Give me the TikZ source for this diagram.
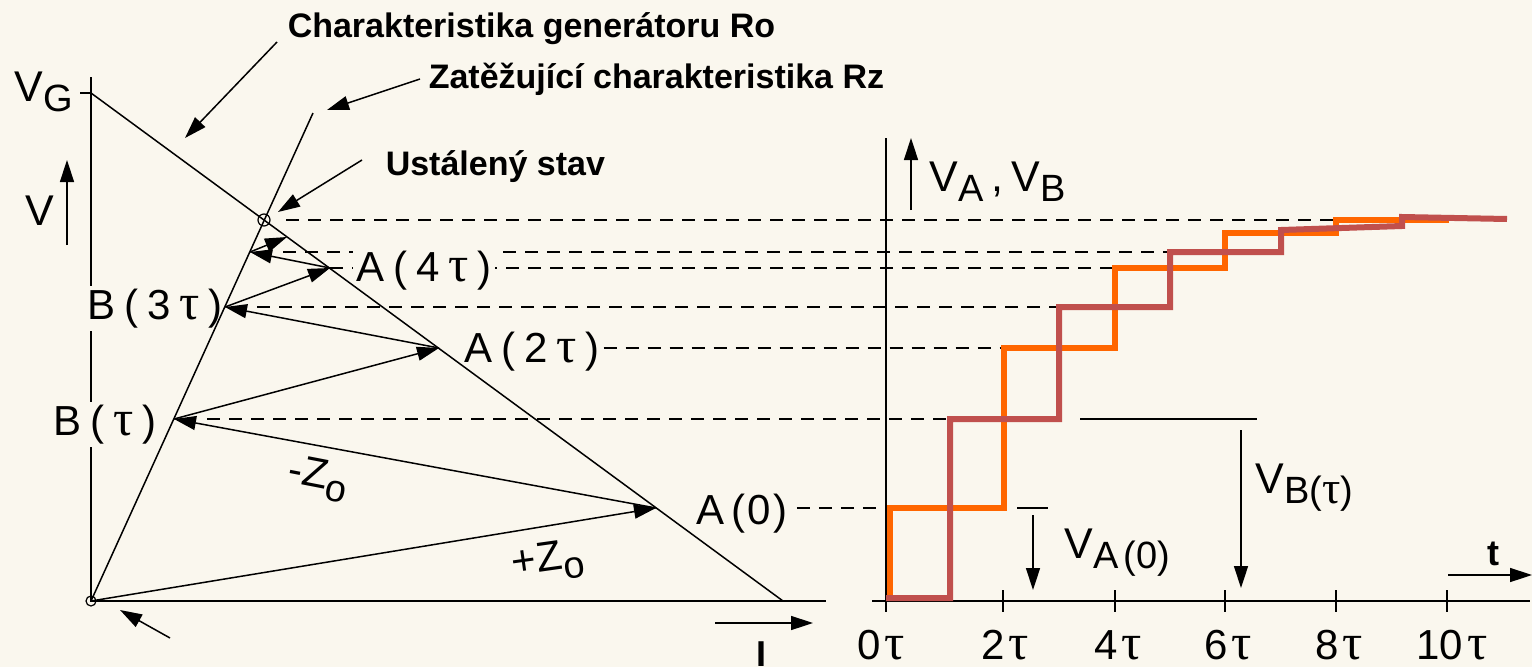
\documentclass[tikz,border=0pt]{standalone}
\usepackage{fontspec}
\setmainfont{Liberation Sans}
\newfontfamily\taufont{Liberation Serif}[Scale=1.2]
\usetikzlibrary{arrows.meta, positioning}
\definecolor{papier}{RGB}{250,247,238}
\definecolor{orangeA}{RGB}{255,102,0}
\definecolor{rotB}{RGB}{192,80,77}
\newcommand{\tauz}{{\taufont τ}}
\newcommand{\tief}[1]{\raisebox{-10pt}{\fontsize{38}{40}\selectfont #1}}
\newcommand{\lz}{\hspace{9pt}}

\begin{document}
\begin{tikzpicture}[x=1pt, y=-1pt, line width=1.5pt,
    lbl/.style={font=\fontsize{42}{44}\selectfont, inner sep=3pt},
    vlbl/.style={font=\fontsize{43}{45}\selectfont, inner sep=1pt},
    note/.style={font=\fontsize{34}{38}\selectfont\bfseries, anchor=base west, inner sep=0pt},
    pfeil/.style={-{Triangle[length=22pt,width=14pt]}},
    hline/.style={dash pattern=on 13pt off 9pt, line width=1.2pt},
    stufe/.style={line width=6pt}]

    \fill[papier] (0,0) rectangle (1532,667);
    \useasboundingbox (0,0) rectangle (1532,667);

    % Arbeitspunkte links
    \coordinate (O) at (91,601);
    \coordinate (G) at (91,93);
    \coordinate (Gend) at (783,601);
    \coordinate (Rz) at (313,113);
    \coordinate (S) at (264,220);
    \coordinate (A0) at (656,508);
    \coordinate (B1) at (174,419);
    \coordinate (A2) at (439,348);
    \coordinate (B3) at (225,307);
    \coordinate (A4) at (330,268);
    \coordinate (B5) at (250,252);
    \coordinate (A6) at (287,237);

    % Enden der Hilfslinien rechts
    \coordinate (tS) at (1336,220);
    \coordinate (tB5) at (1170,252);
    \coordinate (tA4) at (1115,268);
    \coordinate (tB3) at (1059,307);
    \coordinate (tA2) at (1004,348);
    \coordinate (tB1) at (950,419);
    \coordinate (tA0) at (884,508);

    \draw (91,77) -- (O) -- (826,601);
    \draw (80,93) -- (G);

    \draw[hline, shorten <=22pt] (S) -- (tS);
    \draw[hline, shorten <=33pt] (B5) -- (tB5);
    \draw[hline] (A4) -- (tA4);
    \draw[hline, shorten <=32pt] (B3) -- (tB3);
    \draw[hline, shorten <=33pt] (B1) -- (tB1);

    \node[lbl, fill=papier, anchor=base] (la4) at (424,281) {A\lz(\lz4\lz\tauz\lz)};
    \node[lbl, anchor=base] (la2) at (532,362) {A\lz(\lz2\lz\tauz\lz)};
    \node[lbl, anchor=base] (la0) at (742,524) {A\hspace{7pt}(\hspace{2pt}0\hspace{2pt})};
    \node[lbl, fill=papier, anchor=base] (lb3) at (155,319) {B\lz(\lz3\lz\tauz\lz)};
    \node[lbl, fill=papier, anchor=base] (lb1) at (105,435) {B\lz(\lz\tauz\lz)};
    \node[lbl, rotate=-11] (zm) at (318,479) {-Z\tief{o}};
    \node[lbl, rotate=8] (zp) at (548,562) {+Z\tief{o}};

    \draw[hline] (la2.east |- tA2) -- (tA2);
    \draw[hline, shorten <=6pt] (la0.east |- tA0) -- (tA0);

    \draw (G) -- (Gend);
    \draw (O) -- (Rz);
    \draw[line width=1.2pt] (O) circle (5pt);
    \draw[line width=1.2pt] (S) circle (6pt);

    \draw[pfeil] (O) -- (A0);
    \draw[pfeil] (A0) -- (B1);
    \draw[pfeil] (B1) -- (A2);
    \draw[pfeil] (A2) -- (B3);
    \draw[pfeil] (B3) -- (A4);
    \draw[pfeil] (A4) -- (B5);
    \draw[pfeil] (B5) -- (A6);

    \node[vlbl, anchor=base west] (lvg) at (13,101) {V\tief{G}};
    \node[vlbl, anchor=base] (lv) at (40,225) {V};
    \node[font=\fontsize{36}{38}\selectfont\bfseries, anchor=base] (li) at (761,666) {I};

    \coordinate (vfuss) at (67,245);
    \coordinate (vkopf) at (67,160);
    \coordinate (ifuss) at (715,623);
    \coordinate (ikopf) at (813,623);
    \draw[pfeil] (vfuss) -- (vkopf);
    \draw[pfeil] (ifuss) -- (ikopf);

    % Beschriftungen oben
    \node[note] (ngen) at (287,37) {Charakteristika generátoru Ro};
    \node[note] (nlast) at (428,88) {Zatěžující charakteristika Rz};
    \node[note] (nstav) at (385,175) {Ustálený stav};
    \coordinate (pgen) at (277,42);
    \coordinate (hgen) at (185,138);
    \coordinate (plast) at (420,79);
    \coordinate (hlast) at (327,110);
    \coordinate (pstav) at (362,160);
    \coordinate (hstav) at (278,212);
    \coordinate (pnull) at (170,638);
    \coordinate (hnull) at (120,610);
    \draw[pfeil] (pgen) -- (hgen);
    \draw[pfeil] (plast) -- (hlast);
    \draw[pfeil] (pstav) -- (hstav);
    \draw[pfeil] (pnull) -- (hnull);

    % Zeitverlauf rechts
    \draw (886,138) -- (886,612);
    \draw (872,601) -- (1530,601);
    \draw (1003,590) -- (1003,612);
    \draw (1115,590) -- (1115,612);
    \draw (1225,590) -- (1225,612);
    \draw (1336,590) -- (1336,612);
    \draw (1447,590) -- (1447,612);

    \node[lbl, anchor=base] (t0) at (881,659) {0\hspace{4pt}\tauz};
    \node[lbl, anchor=base] (t2) at (1005,659) {2\hspace{4pt}\tauz};
    \node[lbl, anchor=base] (t4) at (1118,659) {4\hspace{4pt}\tauz};
    \node[lbl, anchor=base] (t6) at (1228,659) {6\hspace{4pt}\tauz};
    \node[lbl, anchor=base] (t8) at (1339,659) {8\hspace{4pt}\tauz};
    \node[lbl, anchor=base] (t10) at (1452,659) {10\hspace{4pt}\tauz};

    \draw[stufe, orangeA] (890,601) |- (1004,508) |- (1115,348) |- (1225,268) |- (1336,233) |- (1449,220);
    \draw[stufe, rotB] (886,598) -| (950,419) -| (1059,307) -| (1170,252) -| (1281,230) -- (1402,226) -- (1402,217) -- (1507,219);

    \coordinate (vafuss) at (911,210);
    \coordinate (vakopf) at (911,138);
    \draw[pfeil] (vafuss) -- (vakopf);
    \node[vlbl, anchor=base west] (lvab) at (928,191) {V\tief{A}\hspace{8pt},\hspace{8pt}V\tief{B}};

    \coordinate (ra0) at (1017,508);
    \coordinate (ra0e) at (1048,508);
    \coordinate (rb1) at (1080,419);
    \coordinate (rb1e) at (1257,419);
    \draw (ra0) -- (ra0e);
    \draw (rb1) -- (rb1e);
    \coordinate (da0) at (1033,515);
    \coordinate (da0e) at (1033,590);
    \coordinate (db1) at (1241,430);
    \coordinate (db1e) at (1241,588);
    \draw[pfeil] (da0) -- (da0e);
    \draw[pfeil] (db1) -- (db1e);
    \node[vlbl, anchor=base west] (lva0) at (1063,558) {V\tief{A\hspace{5pt}(0)}};
    \node[vlbl, anchor=base west] (lvb1) at (1254,493) {V\tief{B(\tauz)}};

    \coordinate (tfuss) at (1448,575);
    \coordinate (tkopf) at (1532,575);
    \draw[pfeil] (tfuss) -- (tkopf);
    \node[font=\fontsize{36}{38}\selectfont\bfseries, anchor=base] (lt) at (1493,565) {t};
\end{tikzpicture}
\end{document}
